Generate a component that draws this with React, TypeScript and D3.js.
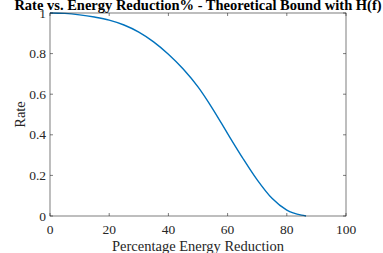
import React from "react";
import * as d3 from "d3";

const reduction = [0, 5, 10, 15, 20, 25, 30, 35, 40, 45, 50, 55, 60, 65, 70, 75, 80, 85, 86.5];
const rate = [1.0, 0.998, 0.991, 0.98, 0.965, 0.941, 0.906, 0.858, 0.797, 0.724, 0.636, 0.527, 0.406, 0.288, 0.178, 0.087, 0.029, 0.004, 0];
const xTicks = [0, 20, 40, 60, 80, 100];
const yTicks = [0, 0.2, 0.4, 0.6, 0.8, 1];

const W = 383, H = 253;
const L = 50, R = 346, T = 13, B = 216;
const font = "'Liberation Serif', 'Times New Roman', serif";
const axisColor = "#262626";

export default function App() {
  const x = d3.scaleLinear().domain([0, 100]).range([L, R]);
  const y = d3.scaleLinear().domain([0, 1]).range([B, T]);
  const pts = reduction.map((r, i) => [r, rate[i]] as [number, number]);
  const line = d3.line<[number, number]>().x(d => x(d[0])).y(d => y(d[1])).curve(d3.curveMonotoneX);
  const tk = 3;
  return (
    <svg width={W} height={H} style={{ position: "absolute", left: 0, top: 0, background: "#fff" }}>
      <rect x={0} y={0} width={W} height={H} fill="#fff" />
      <path d={line(pts) || ""} fill="none" stroke="#0072BD" strokeWidth={1.4} />
      <rect x={L} y={T} width={R - L} height={B - T} fill="none" stroke={axisColor} strokeWidth={0.6} />
      {xTicks.map(t => (
        <g key={"x" + t}>
          <line x1={x(t)} x2={x(t)} y1={B} y2={B - tk} stroke={axisColor} strokeWidth={0.6} />
          <line x1={x(t)} x2={x(t)} y1={T} y2={T + tk} stroke={axisColor} strokeWidth={0.6} />
          <text x={x(t)} y={234} textAnchor="middle" fontFamily={font} fontSize={13.5} fill="#262626">{t}</text>
        </g>
      ))}
      {yTicks.map(t => (
        <g key={"y" + t}>
          <line x1={L} x2={L + tk} y1={y(t)} y2={y(t)} stroke={axisColor} strokeWidth={0.6} />
          <line x1={R} x2={R - tk} y1={y(t)} y2={y(t)} stroke={axisColor} strokeWidth={0.6} />
          <text x={L - 4} y={y(t) + 4.5} textAnchor="end" fontFamily={font} fontSize={13.5} fill="#262626">{t}</text>
        </g>
      ))}
      <text x={(L + R) / 2} y={250.5} textAnchor="middle" fontFamily={font} fontSize={14.5} fill="#262626">Percentage Energy Reduction</text>
      <text transform={`translate(25, ${(T + B) / 2}) rotate(-90)`} textAnchor="middle" fontFamily={font} fontSize={14.5} fill="#262626">Rate</text>
      <text x={(L + R) / 2} y={9.5} textAnchor="middle" fontFamily={font} fontSize={14.5} fontWeight="bold" fill="#000">Rate vs. Energy Reduction% - Theoretical Bound with H(f)</text>
    </svg>
  );
}
